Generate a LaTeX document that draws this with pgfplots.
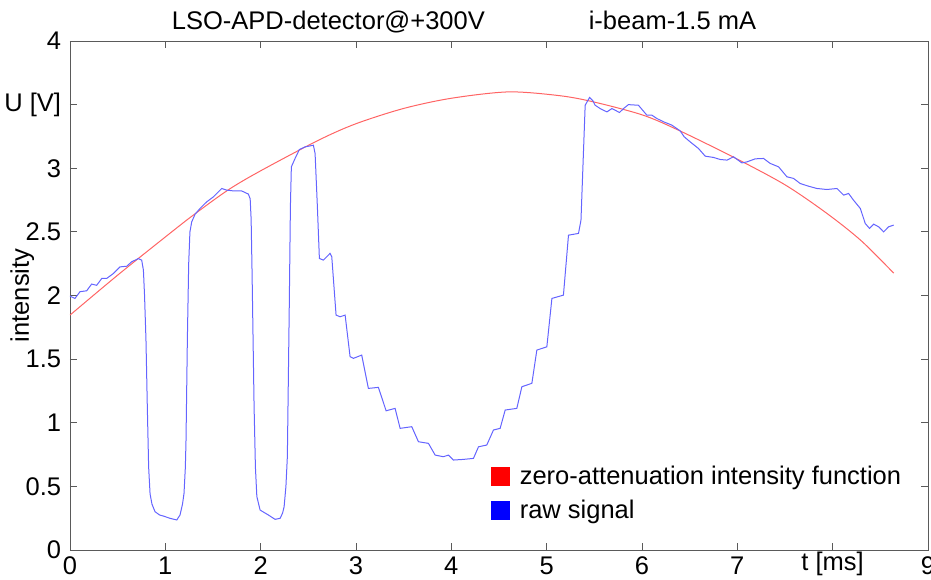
\documentclass[border=0pt]{standalone}
\usepackage{fontspec}
\setmainfont{Liberation Sans}
\usepackage{pgfplots}
\pgfplotsset{compat=1.18}
\definecolor{sigblue}{RGB}{100,100,255}
\definecolor{fitred}{RGB}{255,100,100}
\definecolor{axgray}{RGB}{90,90,90}
\begin{document}
\fontsize{12.75}{15}\selectfont
\begin{tikzpicture}
\useasboundingbox (-35pt,-14.5pt) rectangle (430.5pt,275pt);
\begin{axis}[
  at={(0,0)}, anchor=south west,
  scale only axis, width=429pt, height=254.5pt,
  xmin=0, xmax=9, ymin=0, ymax=4,
  xtick={0,1,2,3,4,5,6,7,8,9},
  xticklabels={0,1,2,3,4,5,6,7,\raisebox{1.6pt}{t [ms]},9},
  xticklabel style={anchor=base, yshift=-12pt},
  ytick={0,0.5,1,1.5,2,2.5,3,3.5,4},
  yticklabels={0,0.5,1,1.5,2,2.5,3,U [V],4},
  tick align=inside, major tick length=3.5pt,
  axis line style={axgray}, every tick/.style={axgray},
  /pgf/number format/assume math mode=true,
  ylabel={intensity},
  every axis y label/.style={at={([xshift=-13.5pt]axis description cs:0,0.5)}, rotate=90, anchor=south},
  title={LSO-APD-detector@+300V\hspace{52pt}i-beam-1.5 mA},
  every axis title/.style={at={([xshift=-17.5pt,yshift=6pt]axis description cs:0.5,1)}, anchor=base},
  legend style={at={(0.49,0.17)}, anchor=north west, draw=none, fill=none, inner sep=0pt, row sep=4pt, nodes={inner sep=1pt},
    /tikz/every odd column/.append style={column sep=4pt}},
  legend cell align=left,
]
\addplot[fitred, line width=0.5pt, smooth,
  legend image code/.code={\fill[red] (0pt,-4pt) rectangle (9pt,5pt);}]
  coordinates {
  (0,1.846) (0.5,2.16) (1.0,2.46) (1.29,2.63) (1.66,2.83) (2.0,2.98)
  (2.606,3.22) (3.0,3.35) (3.5,3.47) (4.0,3.55) (4.6,3.60) (5.14,3.57)
  (5.5,3.52) (6.0,3.42) (6.366,3.305) (6.96,3.087) (7.5,2.87) (7.94,2.645)
  (8.3,2.43) (8.64,2.176)
  };
\addlegendentry{zero-attenuation intensity function}
\addplot[sigblue, line width=0.5pt,
  legend image code/.code={\fill[blue] (0pt,-4pt) rectangle (9pt,5pt);}]
  coordinates {
  (0.000,1.995) (0.052,1.977) (0.105,2.030) (0.175,2.037) (0.227,2.090)
  (0.280,2.080) (0.333,2.134) (0.385,2.134) (0.455,2.173) (0.525,2.225)
  (0.595,2.230) (0.647,2.265) (0.717,2.290) (0.752,2.278) (0.770,2.200)
  (0.782,2.000) (0.797,1.650) (0.811,1.126) (0.825,0.650) (0.840,0.440)
  (0.860,0.360) (0.892,0.301) (0.940,0.275)
  (0.979,0.267) (1.049,0.249) (1.120,0.236) (1.154,0.275) (1.180,0.360)
  (1.196,0.445) (1.210,0.650)
  (1.217,0.864) (1.231,1.650) (1.245,2.250) (1.258,2.500) (1.277,2.579) (1.312,2.639)
  (1.364,2.684) (1.434,2.736) (1.504,2.775) (1.592,2.841) (1.644,2.828)
  (1.714,2.822) (1.800,2.822) (1.871,2.797) (1.890,2.760) (1.900,2.600) (1.910,2.173)
  (1.931,1.126) (1.945,0.650) (1.960,0.420) (1.994,0.314) (2.081,0.275) (2.151,0.241)
  (2.204,0.249) (2.230,0.290) (2.246,0.340) (2.265,0.500) (2.280,0.733) (2.300,1.911)
  (2.312,2.700) (2.322,3.011)
  (2.361,3.077) (2.406,3.147) (2.466,3.168) (2.553,3.181) (2.571,3.116)
  (2.595,2.697) (2.616,2.291) (2.658,2.278) (2.728,2.331) (2.746,2.304)
  (2.791,1.846) (2.833,1.833) (2.886,1.846) (2.938,1.519) (2.973,1.506)
  (3.060,1.532) (3.130,1.270) (3.235,1.278) (3.316,1.094) (3.410,1.113)
  (3.463,0.956) (3.585,0.969) (3.655,0.851) (3.760,0.838) (3.830,0.746)
  (3.917,0.733) (3.970,0.746) (4.022,0.707) (4.127,0.712) (4.232,0.720)
  (4.285,0.811) (4.372,0.825) (4.442,0.943) (4.512,0.956) (4.565,1.100)
  (4.687,1.113) (4.740,1.283) (4.845,1.310) (4.897,1.571) (5.002,1.597)
  (5.055,1.977) (5.176,2.003) (5.229,2.474) (5.334,2.488) (5.360,2.592)
  (5.404,3.495) (5.450,3.556) (5.485,3.530) (5.509,3.495) (5.561,3.469)
  (5.632,3.443) (5.684,3.469) (5.719,3.456) (5.764,3.438) (5.806,3.469)
  (5.858,3.500) (5.963,3.495) (6.051,3.417) (6.104,3.417) (6.156,3.391)
  (6.226,3.365) (6.313,3.339) (6.400,3.294) (6.443,3.247) (6.506,3.207)
  (6.593,3.155) (6.663,3.095) (6.750,3.085) (6.820,3.069) (6.891,3.064)
  (6.960,3.090) (7.048,3.042) (7.100,3.050) (7.188,3.074) (7.275,3.077)
  (7.345,3.038) (7.433,3.011) (7.520,2.933) (7.590,2.920) (7.660,2.880)
  (7.747,2.859) (7.835,2.841) (7.940,2.833) (8.045,2.841) (8.115,2.789)
  (8.167,2.802) (8.219,2.749) (8.290,2.684) (8.342,2.566) (8.387,2.527)
  (8.430,2.561) (8.482,2.540) (8.535,2.500) (8.587,2.540) (8.640,2.553)
  };
\addlegendentry{raw signal}
\end{axis}
\end{tikzpicture}
\end{document}
